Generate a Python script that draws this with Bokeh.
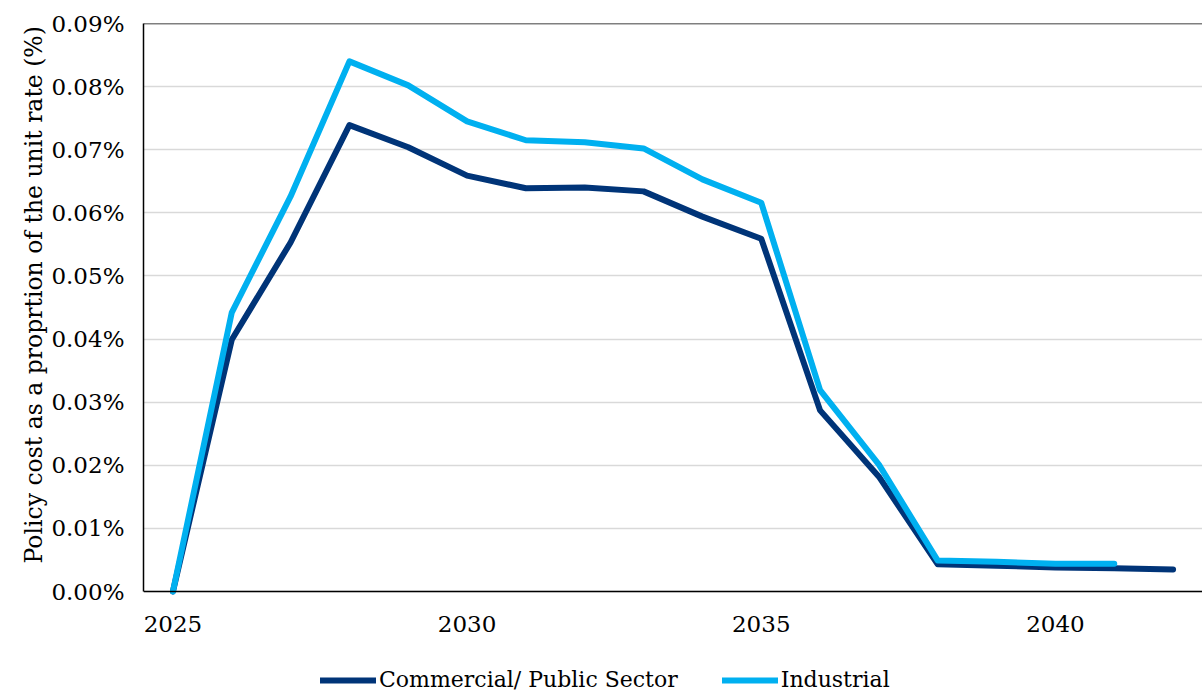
from bokeh.plotting import figure
from bokeh.models import (Range1d, FixedTicker, PrintfTickFormatter, Legend,
                          LegendItem, Span, ColumnDataSource, Title)
from bokeh.core.properties import value
from bokeh.embed import file_html
from bokeh.resources import INLINE

# Policy cost as a share of the unit rate, in percent
years = list(range(2025, 2043))
commercial = [0.0, 0.0399, 0.0553, 0.0739, 0.0704, 0.0659, 0.0639, 0.0640,
              0.0634, 0.0594, 0.0559, 0.0287, 0.0182, 0.0043, 0.0041,
              0.0038, 0.0037, 0.0035]
industrial_years = list(range(2025, 2042))
industrial = [0.0, 0.0442, 0.0626, 0.0840, 0.0802, 0.0745, 0.0715, 0.0712,
              0.0702, 0.0653, 0.0616, 0.0319, 0.0201, 0.0049, 0.0047,
              0.0044, 0.0044]

series_names = ["Commercial/ Public Sector", "Industrial"]
y_label = "Policy cost as a proprtion of the unit rate (%)"
y_ticks = [0.0, 0.01, 0.02, 0.03, 0.04, 0.05, 0.06, 0.07, 0.08, 0.09]
x_ticks = [2025, 2030, 2035, 2040]
y_min, y_max = 0.0, 0.09

FONT = "DejaVu Serif"
DARK = "#003478"
LIGHT = "#00B0F0"

# The frame runs to the bottom of the page so the legend can sit under the
# x axis; the data area itself spans y_min..y_max.
p = figure(frame_width=1059, frame_height=670, output_backend="svg",
           toolbar_location=None, x_axis_location=None,
           x_range=Range1d(2024.5, 2042.5),
           y_range=Range1d(y_min - 0.01616, y_max),
           min_border_left=143, min_border_right=0, min_border_top=23,
           min_border_bottom=0)

p.background_fill_color = "white"
p.border_fill_color = "white"
p.outline_line_color = None

# y axis
p.yaxis.ticker = FixedTicker(ticks=y_ticks)
p.yaxis.formatter = PrintfTickFormatter(format="%.2f%%")
p.yaxis.bounds = (y_min, y_max)
ax = p.yaxis[0]
ax.axis_line_color = "black"
ax.axis_line_width = 1.5
ax.major_tick_line_color = None
ax.minor_tick_line_color = None
ax.major_tick_out = 0
ax.major_tick_in = 0
ax.minor_tick_out = 0
ax.minor_tick_in = 0
ax.major_label_text_font = FONT
ax.major_label_text_font_size = "23px"
ax.major_label_text_color = "black"
ax.major_label_standoff = 19

# y axis title, starting level with the x axis line
p.add_layout(Title(text=y_label, align="left", offset=130, standoff=2,
                   text_font=FONT, text_font_size="23.5px",
                   text_font_style="normal", text_color="black"), "left")

p.xgrid.grid_line_color = None
p.ygrid.grid_line_color = "#d9d9d9"
p.ygrid.grid_line_width = 1.5

# frame edges: x axis line at the bottom, border at the top
p.add_layout(Span(location=y_min, dimension="width", line_color="black",
                  line_width=1.5))
p.add_layout(Span(location=y_max, dimension="width", line_color="black",
                  line_width=1.5))

# x tick labels under the axis line
xt = ColumnDataSource(dict(x=x_ticks, y=[y_min] * len(x_ticks),
                           label=[str(t) for t in x_ticks]))
p.text(x="x", y="y", text="label", source=xt, y_offset=32,
       text_align="center", text_baseline="middle",
       text_font=value(FONT), text_font_size="23px", text_color="black")

r1 = p.line(years, commercial, line_color=DARK, line_width=6,
            line_cap="round", line_join="round")
r2 = p.line(industrial_years, industrial, line_color=LIGHT, line_width=6,
            line_cap="round", line_join="round")

legend = Legend(items=[LegendItem(label=series_names[0], renderers=[r1]),
                       LegendItem(label=series_names[1], renderers=[r2])],
                orientation="horizontal", location=(177, 1),
                label_text_font=FONT, label_text_font_size="22px",
                label_text_color="black", glyph_width=56, glyph_height=20,
                label_standoff=3, spacing=44, border_line_color=None,
                background_fill_alpha=0, padding=0, margin=0)
p.add_layout(legend, "center")

open("out.html", "w").write(file_html(p, INLINE))
